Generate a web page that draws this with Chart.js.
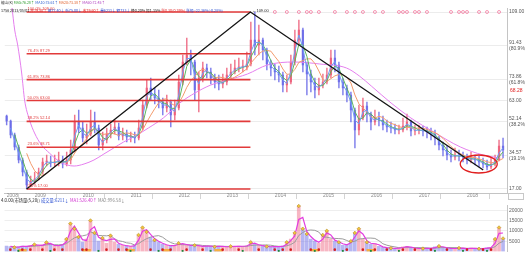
<!DOCTYPE html>
<html>
<head>
<meta charset="utf-8">
<script src="https://cdn.jsdelivr.net/npm/chart.js@4.4.1/dist/chart.umd.min.js"></script>
<style>
  html, body { margin: 0; padding: 0; background: #fff; }
  #wrap { position: relative; width: 525px; height: 257px; overflow: hidden; font-family: "Noto Sans CJK SC", "Liberation Sans", sans-serif; }
  canvas { position: absolute; left: 0; }
  #price { top: 0; }
  #vol { top: 199px; }
  .hd { position: absolute; left: 1px; font-size: 5px; line-height: 6px; white-space: nowrap; color: #222; transform-origin: 0 0; }
  .up { color: #e02828; }
  .dn { color: #2a4fd0; }
  #box { position: absolute; left: 508px; top: 193px; width: 14px; height: 5px; border: 1px solid #c8c8c8; }
</style>
</head>
<body>
<div id="wrap">
  <canvas id="price" width="525" height="200"></canvas>
  <canvas id="vol" width="525" height="58"></canvas>
  <div class="hd" style="top:0px; transform: scale(0.72)">能山(K) <span style="color:#2a9a2a">MA5:76.28↑</span> <span style="color:#2f5fd0">MA10:75.61↑</span> <span style="color:#e0602a">MA20:73.38↑</span> <span style="color:#b040c0">MA60:72.45↑</span></div>
  <div class="hd" style="top:8px; transform: scale(0.74)">1756 2013/05/01 <span class="up">开79.50↑</span> <span class="dn">高77.40↓</span> <span class="dn">低75.00↓</span> <span class="up">收79.60↑</span> <span class="dn">量6211↓</span> <span class="dn">额733↓</span> 换0.20% 振1.15% <span class="up">涨0.30(0.39%)</span> <span class="dn">涨幅:-22.36%(-0.28%)</span></div>
  <div class="hd" style="top:198px; transform: scale(0.86)">4.0.00(市场量(5,20)) <span class="dn">成交量:6211↓</span> <span style="color:#d030d0">MA1:526.40↑</span> <span style="color:#888">MA2:996.58↓</span></div>
  <div id="box"></div>
</div>
<script>
// monthly bars, first one is June 2008
const startYear = 2008;
const startMonth = 6;

const opens = [
  54.90, 52.34, 45.07, 38.83, 32.07, 25.84, 19.08, 21.16, 22.20, 25.84,
  31.03, 31.03, 30.51, 31.03, 32.07, 29.99, 32.07, 37.27, 51.82, 48.71,
  43.51, 45.59, 51.82, 48.71, 39.87, 42.47, 45.59, 47.67, 49.23, 44.55,
  45.59, 44.03, 44.03, 43.51, 48.71, 60.66, 69.50, 65.86, 64.30, 62.22,
  59.10, 62.22, 55.46, 59.10, 72.62, 83.01, 86.65, 83.01, 68.46, 74.70,
  79.89, 77.81, 74.70, 72.62, 71.58, 72.62, 76.25, 77.81, 79.89, 80.41,
  80.41, 81.97, 94.45, 91.85, 94.45, 89.25, 81.97, 79.89, 77.81, 76.25,
  71.06, 72.62, 83.01, 94.45, 99.65, 81.45, 76.77, 72.62, 68.46, 71.06,
  72.62, 76.25, 85.09, 81.45, 72.62, 69.50, 65.86, 58.06, 47.67, 53.90,
  60.14, 55.98, 51.82, 53.90, 52.86, 50.26, 49.23, 48.71, 47.67, 47.67,
  49.74, 51.82, 47.15, 47.67, 47.67, 47.15, 46.63, 45.59, 43.51, 39.87,
  37.27, 34.67, 33.63, 34.67, 34.15, 33.63, 32.07, 33.11, 32.07, 31.03,
  29.99, 28.43, 29.99, 32.07, 39.35
];
const highs = [
  55.46, 52.86, 46.11, 39.87, 33.11, 26.88, 23.76, 25.84, 27.91, 33.11,
  34.67, 34.15, 34.67, 36.23, 34.15, 36.23, 42.47, 55.46, 58.06, 51.82,
  50.78, 58.06, 57.02, 50.26, 46.63, 48.71, 50.78, 52.86, 51.30, 48.71,
  47.67, 46.63, 46.63, 52.86, 63.26, 73.66, 74.70, 69.50, 68.46, 64.30,
  65.86, 63.26, 63.26, 76.25, 86.65, 95.49, 89.25, 84.05, 77.81, 83.01,
  81.97, 79.89, 76.77, 76.25, 76.77, 79.89, 81.97, 84.05, 85.09, 84.05,
  88.21, 103.80, 109.00, 102.25, 95.49, 90.29, 84.05, 81.97, 80.93, 77.81,
  76.25, 86.65, 99.65, 104.80, 100.70, 83.01, 78.85, 74.70, 74.70, 76.77,
  79.89, 89.25, 89.25, 83.01, 74.70, 71.06, 67.42, 59.10, 60.66, 64.30,
  62.22, 57.02, 58.06, 57.02, 54.94, 52.86, 51.82, 50.78, 50.26, 53.90,
  55.98, 52.86, 50.26, 50.26, 49.74, 49.23, 48.71, 47.67, 44.55, 41.43,
  39.35, 37.27, 38.31, 37.27, 36.23, 35.19, 36.23, 34.67, 34.15, 33.11,
  32.07, 33.11, 34.67, 42.47, 43.51
];
const lows = [
  50.26, 43.51, 37.27, 30.51, 23.76, 17.00, 18.04, 19.60, 21.68, 24.80,
  28.95, 28.43, 28.95, 28.95, 27.91, 28.95, 29.99, 36.23, 46.11, 41.43,
  40.39, 44.55, 46.11, 37.27, 37.27, 40.91, 43.51, 45.59, 42.47, 42.47,
  41.43, 41.43, 40.91, 42.47, 47.67, 59.10, 63.26, 61.18, 59.10, 55.46,
  57.02, 49.23, 52.86, 58.06, 71.06, 81.45, 76.25, 63.26, 57.02, 72.62,
  74.70, 71.58, 69.50, 68.46, 69.50, 71.06, 74.70, 76.77, 77.81, 77.81,
  78.85, 80.93, 86.65, 86.65, 84.05, 78.85, 75.73, 73.66, 72.62, 67.42,
  67.42, 71.58, 81.45, 91.85, 77.81, 65.86, 67.42, 64.30, 65.86, 69.50,
  71.58, 74.70, 77.81, 69.50, 65.86, 62.22, 51.82, 38.31, 45.07, 52.86,
  51.82, 47.67, 50.26, 49.74, 47.67, 46.63, 46.11, 45.59, 45.59, 46.63,
  47.67, 44.55, 45.07, 45.59, 44.55, 43.51, 42.47, 39.87, 37.27, 34.15,
  32.07, 31.03, 32.07, 31.55, 31.03, 29.99, 30.51, 29.47, 28.43, 27.91,
  26.88, 27.40, 28.95, 31.55, 33.11
];
const closes = [
  52.34, 45.07, 38.83, 32.07, 25.84, 19.08, 21.16, 22.20, 25.84, 31.03,
  31.03, 30.51, 31.03, 32.07, 29.99, 32.07, 37.27, 51.82, 48.71, 43.51,
  45.59, 51.82, 48.71, 39.87, 42.47, 45.59, 47.67, 49.23, 44.55, 45.59,
  44.03, 44.03, 43.51, 48.71, 60.66, 69.50, 65.86, 64.30, 62.22, 59.10,
  62.22, 55.46, 59.10, 72.62, 83.01, 86.65, 83.01, 68.46, 74.70, 79.89,
  77.81, 74.70, 72.62, 71.58, 72.62, 76.25, 77.81, 79.89, 80.41, 80.41,
  81.97, 94.45, 91.85, 94.45, 89.25, 81.97, 79.89, 77.81, 76.25, 71.06,
  72.62, 83.01, 94.45, 99.65, 81.45, 76.77, 72.62, 68.46, 71.06, 72.62,
  76.25, 85.09, 81.45, 72.62, 69.50, 65.86, 58.06, 47.67, 53.90, 60.14,
  55.98, 51.82, 53.90, 52.86, 50.26, 49.23, 48.71, 47.67, 47.67, 49.74,
  51.82, 47.15, 47.67, 47.67, 47.15, 46.63, 45.59, 43.51, 39.87, 37.27,
  34.67, 33.63, 34.67, 34.15, 33.63, 32.07, 33.11, 32.07, 31.03, 29.99,
  28.43, 29.99, 32.07, 39.35, 37.27
];
const volumes = [
  2600, 2400, 2000, 2300, 2600, 2400, 3000, 3400, 2800, 3200,
  4400, 3400, 2600, 3000, 3400, 6000, 13500, 11000, 7000, 4500,
  6000, 15000, 9000, 5000, 6500, 4000, 7700, 4500, 3500, 3000,
  2600, 2500, 3000, 8000, 11600, 9500, 7000, 5500, 4500, 3500,
  3000, 2600, 3000, 4000, 3600, 3200, 2800, 3000, 2600, 2400,
  2800, 2500, 2300, 2600, 2400, 2200, 2500, 2400, 2600, 2500,
  2800, 4500, 3500, 3000, 2600, 2400, 2200, 2500, 2300, 2600,
  4500, 6000, 9000, 22000, 11000, 8500, 6000, 5000, 4000, 8000,
  10000, 6000, 5000, 4500, 3000, 3500, 5000, 9000, 11000, 6000,
  4500, 3500, 4000, 2500, 2000, 1800, 1600, 1500, 1700, 2200,
  2500, 1800, 1600, 1500, 1400, 1600, 1500, 2200, 2600, 2000,
  1600, 1500, 1400, 1700, 1500, 1400, 1600, 1500, 1300, 1400,
  1800, 2000, 6000, 11600, 6300
];

// long (pink) average: dates in years, values in price
const longMaX = [2008.564, 2008.626, 2008.688, 2008.771, 2008.832, 2008.935, 2009.039, 2009.183, 2009.348, 2009.513,
  2009.719, 2009.863, 2010.069, 2010.276, 2010.482, 2010.688, 2010.894, 2011.100, 2011.410, 2011.719,
  2012.090, 2012.379, 2012.709, 2013.059, 2013.472, 2013.884, 2014.441, 2014.977, 2015.533, 2015.801,
  2016.049, 2016.461, 2016.874, 2017.348, 2017.905, 2018.379, 2018.729];
const longMaY = [112.6, 99.65, 91.85, 77.29, 63.26, 52.86, 46.11, 39.87, 35.71, 32.07,
  29.47, 28.95, 29.99, 32.07, 35.19, 38.31, 41.43, 44.03, 48.71, 53.90,
  62.22, 66.90, 71.06, 73.66, 76.77, 81.45, 83.01, 81.97, 79.89, 75.73,
  70.54, 61.70, 53.90, 46.63, 38.83, 34.67, 33.11];

// golden section drawn from the 2008 low to the 2013 high
const fibLow = 17.00;
const fibHigh = 109.00;
const fibStart = 2008.874;
const fibEnd = 2013.533;
const fibPcts = [0, 23.6, 38.2, 50, 61.8, 76.4, 100];
const axisPcts = [0, 19.1, 38.2, 50, 61.8, 80.9, 100];
const markedPrice = 68.28;

// trend lines and the circled bottom
const trendX = [2008.874, 2013.533, 2018.379];
const trendY = [17.00, 109.00, 26.88];
const ringAt = [2018.286, 30.0];

// year ticks
const yearTicks = [2008.42, 2009, 2010, 2011, 2012, 2013, 2014, 2015, 2016, 2017, 2018];
const yearLabels = ['2008', '2009', '2010', '2011', '2012', '2013', '2014', '2015', '2016', '2017', '2018'];

// signal marks (month index)
const topSignals = [67, 70, 73, 75, 76, 78, 82, 85, 87, 89, 92, 94, 98, 99, 100, 102, 103, 105, 111, 113, 114, 115, 118, 120, 123];
const diamondIdx = [2, 7, 10, 15, 16, 17, 18, 21, 22, 24, 26, 33, 34, 35, 37, 43, 47, 52, 56, 61, 65, 70, 72, 73, 74, 75, 79, 80, 83, 86, 87, 88, 90, 96, 104, 108, 113, 118, 122, 123, 124];
const redDotIdx = [1, 4, 6, 9, 12, 14, 19, 20, 25, 28, 30, 36, 39, 41, 45, 49, 54, 58, 63, 67, 69, 71, 76, 78, 82, 85, 89, 92, 95, 99, 102, 106, 110, 115, 119, 121];
const greenDotIdx = [3, 11, 23, 31, 38, 44, 51, 59, 68, 77, 84, 91, 98, 107, 114, 120];
const orangeIdx = [4, 20, 31, 40, 53, 77, 91];

const xMin = 2008.42;
const xMax = 2018.874;
const yMin = 14.92;
const yMax = 111.08;

const xOf = (i) => startYear + (startMonth - 1 + i + 0.5) / 12;
const fibVal = (p) => fibLow + (p / 100) * (fibHigh - fibLow);
const ma = (arr, n) => arr.map((v, i) => (i < n - 1 ? null : arr.slice(i - n + 1, i + 1).reduce((a, b) => a + b, 0) / n));
const series = (arr) => arr.map((v, i) => ({ x: xOf(i), y: v }));

const isUp = closes.map((c, i) => c >= opens[i]);
const candleColor = isUp.map((u) => (u ? 'rgba(236,92,120,0.85)' : 'rgba(104,104,232,0.85)'));

Chart.defaults.font.family = "'Liberation Sans', sans-serif";

const extras = {
  id: 'extras',
  afterDatasetsDraw(chart) {
    const { ctx } = chart;
    const x = chart.scales.x;
    const y = chart.scales.y;
    ctx.save();
    ctx.font = '4px "Liberation Sans"';
    ctx.fillStyle = '#e23a3a';
    ctx.textBaseline = 'bottom';
    fibPcts.forEach((p) => {
      const v = fibVal(p);
      ctx.fillText(`${p.toFixed(1)}% ${v.toFixed(2)}`, x.getPixelForValue(fibStart) + 1, y.getPixelForValue(v) - 1);
    });
    ctx.fillStyle = '#222';
    ctx.textBaseline = 'middle';
    ctx.fillText('←' + fibHigh.toFixed(2), x.getPixelForValue(trendX[1]) + 2, y.getPixelForValue(fibHigh) - 1);

    ctx.beginPath();
    ctx.ellipse(x.getPixelForValue(ringAt[0]), y.getPixelForValue(ringAt[1]), 18.5, 9, 0, 0, Math.PI * 2);
    ctx.strokeStyle = '#e02020';
    ctx.lineWidth = 1.3;
    ctx.stroke();
    ctx.restore();
  },
  afterDraw(chart) {
    const { ctx, chartArea } = chart;
    const y = chart.scales.y;
    ctx.save();
    ctx.font = '5px "Liberation Sans"';
    ctx.fillStyle = '#e02020';
    ctx.textBaseline = 'middle';
    ctx.fillText(markedPrice.toFixed(2), chartArea.right + 3, y.getPixelForValue(markedPrice));
    ctx.restore();
  }
};

const lineSet = (data, color, width, order, extra) => Object.assign({
  type: 'line', data, borderColor: color, borderWidth: width, pointRadius: 0, fill: false, order
}, extra || {});

new Chart(document.getElementById('price'), {
  type: 'line',
  data: {
    datasets: [
      lineSet(trendX.map((v, i) => ({ x: v, y: trendY[i] })), '#161616', 1.4, 0),
      ...fibPcts.map((p) => lineSet([{ x: fibStart, y: fibVal(p) }, { x: fibEnd, y: fibVal(p) }], '#e23a3a', 1.6, 1)),
      {
        type: 'scatter',
        data: topSignals.map((i) => ({ x: xOf(i), y: fibHigh })),
        pointStyle: 'circle', pointRadius: 1.5, borderColor: '#f27da2', backgroundColor: 'rgba(0,0,0,0)', borderWidth: 0.8, order: 1, clip: false
      },
      lineSet(series(ma(closes, 2)), '#6f9ff2', 1, 2),
      lineSet(series(ma(closes, 3)), '#5cb85c', 1, 2),
      lineSet(series(ma(closes, 6)), '#f39a6c', 1, 2),
      lineSet(longMaX.map((v, i) => ({ x: v, y: longMaY[i] })), '#e57fee', 1, 3, { cubicInterpolationMode: 'monotone' }),
      {
        type: 'bar',
        data: closes.map((c, i) => ({ x: xOf(i), y: [Math.min(opens[i], c), Math.max(opens[i], c)] })),
        backgroundColor: candleColor, barThickness: 1.6, grouped: false, minBarLength: 1, order: 4
      },
      {
        type: 'bar',
        data: closes.map((c, i) => ({ x: xOf(i), y: [lows[i], highs[i]] })),
        backgroundColor: candleColor, barThickness: 0.8, grouped: false, order: 5
      }
    ]
  },
  options: {
    responsive: false,
    animation: false,
    events: [],
    layout: { padding: { top: 8, left: 0, right: 0, bottom: 0 } },
    plugins: { legend: { display: false }, tooltip: { enabled: false } },
    scales: {
      x: {
        type: 'linear', min: xMin, max: xMax, offset: false,
        afterBuildTicks: (s) => { s.ticks = yearTicks.map((v) => ({ value: v })); },
        afterFit: (s) => { s.height = 7; },
        grid: { drawOnChartArea: false, drawTicks: true, tickLength: 6, color: '#d4d4d4' },
        border: { color: '#c4c4c4' },
        ticks: {
          autoSkip: false, maxRotation: 0, align: 'start', padding: -6, labelOffset: 2,
          font: { size: 5 }, color: '#8a8a8a',
          callback: (v, i) => yearLabels[i]
        }
      },
      y: {
        position: 'right', min: yMin, max: yMax,
        afterBuildTicks: (s) => { s.ticks = axisPcts.map((p) => ({ value: fibVal(p) })); },
        afterFit: (s) => { s.width = 18; },
        grid: { color: '#ececec', drawTicks: false },
        border: { color: '#c4c4c4' },
        ticks: {
          padding: 2, font: { size: 5 }, color: '#555',
          callback: (v, i) => {
            const p = axisPcts[i];
            const txt = fibVal(p).toFixed(2);
            return (p === 0 || p === 50 || p === 100) ? txt : [txt, `(${p}%)`];
          }
        }
      }
    }
  },
  plugins: [extras]
});

const volUp = isUp.map((u) => (u ? 'rgba(240,110,135,0.5)' : 'rgba(110,110,230,0.5)'));

new Chart(document.getElementById('vol'), {
  type: 'bar',
  data: {
    datasets: [
      {
        type: 'scatter',
        data: diamondIdx.map((i) => ({ x: xOf(i), y: volumes[i] })),
        pointStyle: 'rectRot', pointRadius: 1.8, backgroundColor: '#f2c53d', borderColor: '#a8821c', borderWidth: 0.5, order: 0, clip: false
      },
      {
        type: 'scatter',
        data: redDotIdx.map((i) => ({ x: xOf(i), y: 900 })),
        pointStyle: 'circle', pointRadius: 1.3, backgroundColor: '#d42020', borderWidth: 0, order: 0, clip: false
      },
      {
        type: 'scatter',
        data: greenDotIdx.map((i) => ({ x: xOf(i), y: 300 })),
        pointStyle: 'rect', pointRadius: 1.3, backgroundColor: '#1d8a3c', borderWidth: 0, order: 0, clip: false
      },
      lineSet(series(ma(volumes, 2)), '#e23ce0', 1.2, 1),
      lineSet(series(ma(volumes, 6)), '#9c9c9c', 1, 1),
      {
        type: 'bar',
        data: orangeIdx.map((i) => ({ x: xOf(i), y: 1000 })),
        backgroundColor: '#f6b042', barThickness: 8, grouped: false, order: 2
      },
      {
        type: 'bar',
        data: series(volumes),
        backgroundColor: volUp, barThickness: 3, grouped: false, order: 3
      }
    ]
  },
  options: {
    responsive: false,
    animation: false,
    events: [],
    layout: { padding: { top: 6, left: 0, right: 0, bottom: 5.5 } },
    plugins: { legend: { display: false }, tooltip: { enabled: false } },
    scales: {
      x: { type: 'linear', min: xMin, max: xMax, offset: false, display: false },
      y: {
        position: 'right', min: 0, max: 22500,
        afterBuildTicks: (s) => { s.ticks = [5000, 10000, 15000, 20000].map((v) => ({ value: v })); },
        afterFit: (s) => { s.width = 18; },
        grid: { color: '#eeeeee', drawTicks: false },
        border: { color: '#c4c4c4' },
        ticks: { padding: 2, font: { size: 5 }, color: '#666', callback: (v) => String(v) }
      }
    }
  }
});
</script>
</body>
</html>
